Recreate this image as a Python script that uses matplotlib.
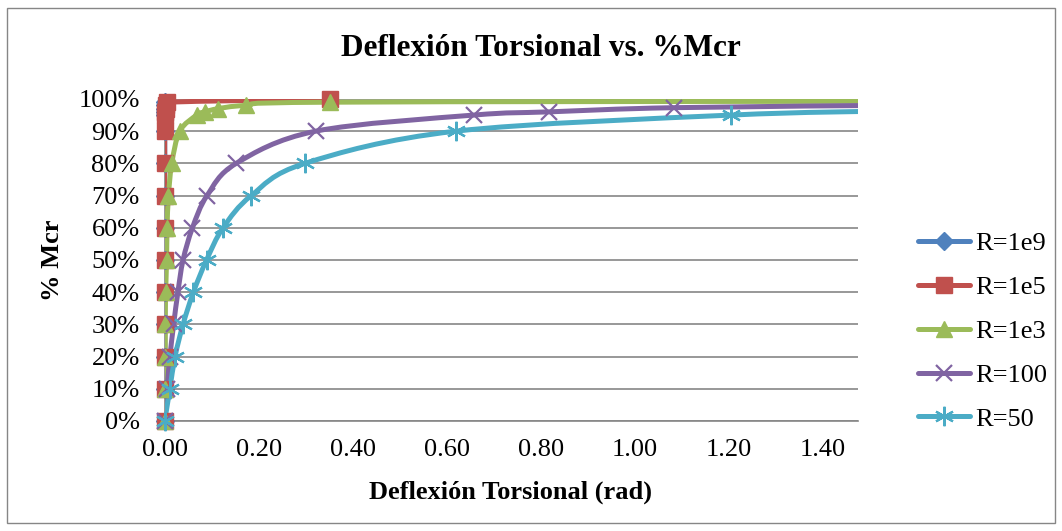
import numpy as np
import matplotlib
matplotlib.use('Agg')
import matplotlib.pyplot as plt
from matplotlib.patches import Rectangle, PathPatch
from matplotlib.path import Path
from matplotlib.lines import Line2D
from matplotlib.ticker import FuncFormatter

plt.rcParams['font.family'] = ['Liberation Serif', 'DejaVu Serif']

# % Mcr levels
y_base = [0, 10, 20, 30, 40, 50, 60, 70, 80, 90]

# R = 1e9 (all at zero deflection)
x_1e9 = [0, 0, 0, 0, 0, 0, 0, 0, 0, 0, 0, 0, 0, 0, 0]
y_1e9 = y_base + [95, 96, 97, 98, 99]

# R = 1e5
x_1e5 = [0, 0, 0, 0, 0, 0, 0, 0, 0, 0, 0.001, 0.001, 0.002, 0.002, 0.004, 0.351]
y_1e5 = y_base + [95, 96, 97, 98, 99, 99.99]

# R = 1e3
x_1e3 = [0, 0.000, 0.001, 0.001, 0.002, 0.004, 0.005, 0.008, 0.015, 0.032,
         0.068, 0.085, 0.114, 0.172, 0.351, 1.6]
y_1e3 = y_base + [95, 96, 97, 98, 99, 99.3]

# R = 100
x_100 = [0, 0.005, 0.011, 0.019, 0.028, 0.039, 0.059, 0.090, 0.152, 0.321,
         0.657, 0.818, 1.083, 1.6]
y_100 = y_base + [95, 96, 97.3, 98.1]

# R = 50
x_50 = [0, 0.011, 0.022, 0.039, 0.061, 0.089, 0.124, 0.184, 0.298, 0.619,
        1.204, 1.55]
y_50 = y_base + [95, 96.3]

labels = ['R=1e9', 'R=1e5', 'R=1e3', 'R=100', 'R=50']
colors = ['#4F81BD', '#C0504D', '#9BBB59', '#8064A2', '#4BACC6']

XMAX = 1.474


def smooth_path(xs, ys):
    # Excel-style smoothed line: cubic Bezier segments through the points
    pts = np.column_stack([xs, ys])
    n = len(pts)
    verts = [pts[0]]
    codes = [Path.MOVETO]
    for i in range(n - 1):
        p0 = pts[i - 1] if i > 0 else pts[i]
        p1 = pts[i]
        p2 = pts[i + 1]
        p3 = pts[i + 2] if i + 2 < n else pts[i + 1]
        verts += [p1 + (p2 - p0) / 6.0, p2 - (p3 - p1) / 6.0, p2]
        codes += [Path.CURVE4] * 3
    return Path(verts, codes)


fig = plt.figure(figsize=(10.62, 5.31), dpi=100)
ax = fig.add_axes([0.1551, 0.2072, 0.6528, 0.6064])

series = [(x_1e9, y_1e9, 'D', 9, 1.0),
          (x_1e5, y_1e5, 's', 11, 1.0),
          (x_1e3, y_1e3, '^', 12, 1.0),
          (x_100, y_100, 'x', 12, 1.6),
          (x_50, y_50, (6, 2, 0), 14, 1.6)]

handles = []
for (xs, ys, mk, ms, mew), lab, c in zip(series, labels, colors):
    xs = np.array(xs, dtype=float)
    ys = np.array(ys) / 100.0
    ax.add_patch(PathPatch(smooth_path(xs, ys), fill=False, edgecolor=c, lw=3.6,
                           capstyle='round', joinstyle='round', zorder=3))
    m = xs <= XMAX
    ax.plot(xs[m], ys[m], ls='none', marker=mk, markersize=ms,
            markeredgewidth=mew, markerfacecolor=c, markeredgecolor=c,
            clip_on=False, zorder=4)
    handles.append(Line2D([], [], color=c, lw=3.6, marker=mk, markersize=ms,
                          markeredgewidth=mew, markerfacecolor=c,
                          markeredgecolor=c, solid_capstyle='round', label=lab))

ax.set_xlim(0, XMAX)
ax.set_ylim(0, 1.0)
ax.set_xticks(np.arange(0, 1.41, 0.2))
ax.set_yticks(np.arange(0, 1.01, 0.1))
ax.xaxis.set_major_formatter(FuncFormatter(lambda v, p: '%.2f' % v))
ax.yaxis.set_major_formatter(FuncFormatter(lambda v, p: '%d%%' % round(v * 100)))
ax.tick_params(axis='both', length=0, labelsize=19)
ax.tick_params(axis='y', pad=18)
ax.tick_params(axis='x', pad=13)

ax.grid(axis='y', color='#868686', lw=1.2)
ax.set_axisbelow(True)
for s in ['top', 'right']:
    ax.spines[s].set_visible(False)
for s in ['left', 'bottom']:
    ax.spines[s].set_color('#868686')
    ax.spines[s].set_linewidth(1.2)

fig.text(0.509, 0.908, 'Deflexión Torsional vs. %Mcr', ha='center', va='center',
         fontsize=22.5, fontweight='bold')
fig.text(0.481, 0.073, 'Deflexión Torsional (rad)', ha='center', va='center',
         fontsize=19, fontweight='bold')
fig.text(0.049, 0.51, '% Mcr', ha='center', va='center', rotation=90,
         fontsize=19, fontweight='bold')

fig.legend(handles=handles, loc='upper left', bbox_to_anchor=(0.854, 0.583),
           frameon=False, fontsize=19, handlelength=2.0, handletextpad=0.2,
           labelspacing=0.77, borderaxespad=0)

fig.patches.append(Rectangle((0.007, 0.015), 0.986, 0.97, transform=fig.transFigure,
                             fill=False, edgecolor='#868686', lw=1.0))

fig.savefig('out.png', dpi=100)
